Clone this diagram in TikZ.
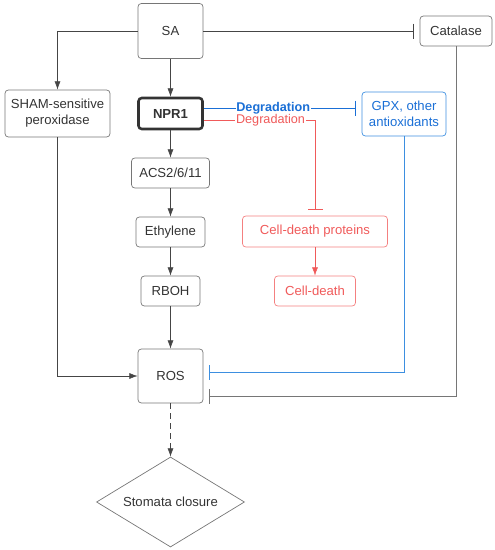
\documentclass[tikz,border=0pt]{standalone}
\usepackage{fontspec}
\setmainfont{Liberation Sans}
\usetikzlibrary{arrows.meta,shapes.geometric}
\definecolor{lnk}{HTML}{454545}
\definecolor{bx}{HTML}{767676}
\definecolor{txt}{HTML}{333333}
\definecolor{degblue}{HTML}{1A6FD6}
\definecolor{boxblue}{HTML}{3D8FE0}
\definecolor{degred}{HTML}{F05A5A}
\definecolor{boxred}{HTML}{F48080}
\begin{document}
\begin{tikzpicture}[x=.03cm,y=-.03cm,
  box/.style={draw=bx,line width=.6pt,rounded corners=1mm,align=center,text=txt,font=\fontsize{11.2}{13.5}\selectfont,inner sep=0pt},
  act/.style={-{Latex[length=2.5mm,width=1.8mm]},draw=lnk,line width=.5pt},
  inh/.style={-{Bar[width=4.5mm,line width=.8pt]},draw=lnk,line width=.5pt,shorten >=1.8mm},
  lbl/.style={fill=white,inner sep=.5pt,font=\fontsize{10.8}{12}\selectfont}]
\useasboundingbox (0,0) rectangle (495,550);
\node[box,minimum width=1.95cm,minimum height=1.65cm] (sa) at (170.5,31) {SA};
\node[box,minimum width=3.15cm,minimum height=1.41cm] (sham) at (57.5,113.5) {SHAM-sensitive\\peroxidase};
\node[box,minimum width=1.92cm,minimum height=.93cm,line width=2.2pt,draw=txt,font=\fontsize{11.2}{13.5}\selectfont\bfseries] (npr) at (170.5,113.5) {NPR1};
\node[box,minimum width=2.34cm,minimum height=.9cm] (acs) at (170.5,173) {ACS2/6/11};
\node[box,minimum width=2.07cm,minimum height=.9cm] (eth) at (170.5,232) {Ethylene};
\node[box,minimum width=1.77cm,minimum height=.9cm] (rboh) at (170.5,291) {RBOH};
\node[box,minimum width=1.95cm,minimum height=1.62cm] (ros) at (170.5,376) {ROS};
\node[box,shape=diamond,rounded corners=0pt,aspect=1.64,minimum width=4.44cm,minimum height=2.7cm] (stom) at (170.5,502) {Stomata closure};
\node[box,minimum width=2.16cm,minimum height=.9cm] (cat) at (456,31) {Catalase};
\node[box,draw=boxblue,text=degblue,minimum width=2.52cm,minimum height=1.32cm] (gpx) at (404,114) {GPX, other\\antioxidants};
\node[box,draw=boxred,text=degred,minimum width=4.35cm,minimum height=.93cm] (cdp) at (315,231.5) {Cell-death proteins};
\node[box,draw=boxred,text=degred,minimum width=2.43cm,minimum height=.9cm] (cd) at (315,291) {Cell-death};
% SA branches
\draw[act] (sa.west) -| (sham.north);
\draw[act] (sa) -- (npr);
\draw[inh] (sa.east) -- (cat.west);
% ethylene chain
\draw[act] (npr) -- (acs);
\draw[act] (acs) -- (eth);
\draw[act] (eth) -- (rboh);
\draw[act] (rboh) -- (ros);
\draw[act] (sham.south) |- (ros.west);
% degradation
\coordinate (degb) at ([yshift=.165cm]npr.east);
\coordinate (degr) at ([yshift=-.195cm]npr.east);
\draw[inh,draw=degblue] (degb) -- (gpx.west |- degb) node[lbl,pos=.44,text=degblue,font=\fontsize{10.8}{12}\selectfont\bfseries] {Degradation};
\draw[inh,draw=degred] (degr) -| (cdp.north) node[lbl,pos=.3,text=degred] {Degradation};
\draw[act,draw=degred,-{Latex[length=2.5mm,width=1.8mm,fill=degred]}] (cdp) -- (cd);
% scavengers to ROS
\draw[inh,draw=boxblue] (gpx.south) |- ([yshift=.12cm]ros.east);
\draw[inh,draw=bx] (cat.south) |- ([yshift=-.6cm]ros.east);
\draw[act,dash pattern=on 1.8mm off 1.2mm] (ros) -- (stom);
\end{tikzpicture}
\end{document}
